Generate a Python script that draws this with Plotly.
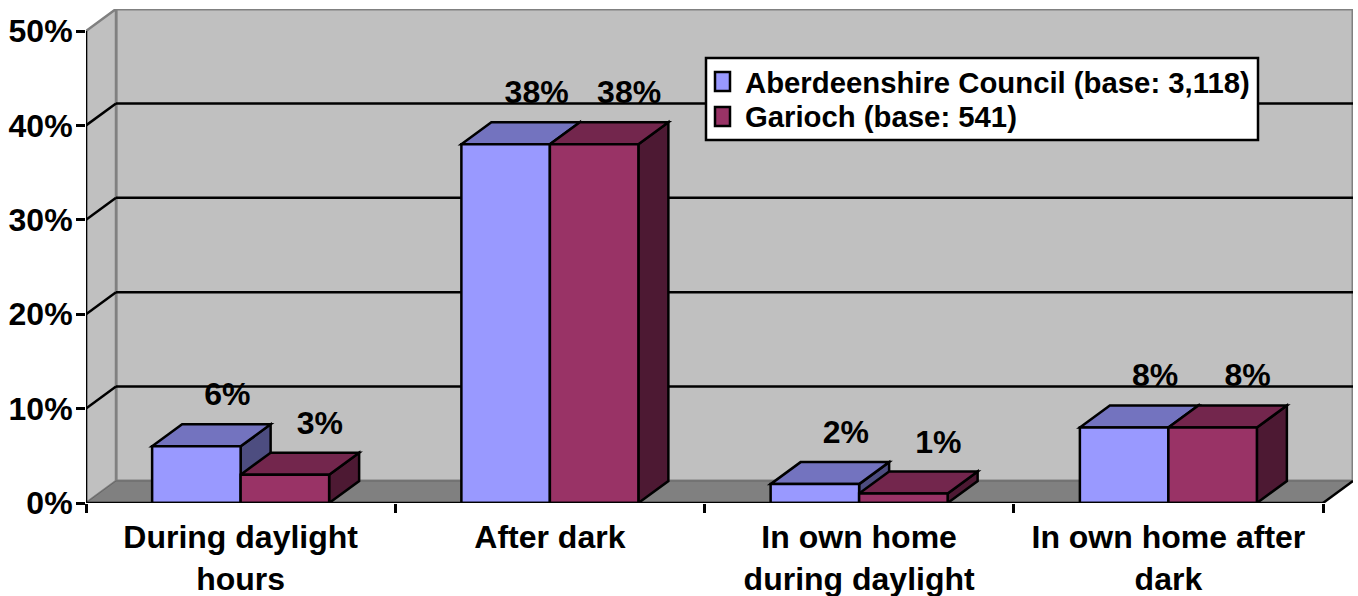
import plotly.graph_objects as go

categories = ["During daylight<br>hours", "After dark", "In own home<br>during daylight", "In own home after<br>dark"]
aberdeenshire = [6, 38, 2, 8]
garioch = [3, 38, 1, 8]
series_names = ["Aberdeenshire Council (base: 3,118)", "Garioch (base: 541)"]
y_ticks = [0, 10, 20, 30, 40, 50]

FONT = "Liberation Sans"
BLUE = ("#9999FF", "#7373BF", "#4D4D80")
MAROON = ("#993366", "#73264D", "#4D1933")
WALL, FLOOR, EDGE = "#C0C0C0", "#808080", "#808080"

W, H = 1358, 596
ML, MR, MT, MB = 86, 5, 9, 93
PX_X, PX_Y = 309.25, 9.44          # pixels per category / per percent
DX, DY = 30 / PX_X, 22 / PX_Y      # depth of the 3-D box in axis units
BAR_W = 88.5 / PX_X
N = len(categories)
centers = [i + 0.5 for i in range(N)]
XMAX, YMAX = y_ticks[-1], N
LW = 2.5


def poly(pts, fill, layer="between", line="black", width=LW):
    path = "M" + " L".join(f"{x:.4f} {y:.4f}" for x, y in pts) + " Z"
    return dict(type="path", path=path, xref="x", yref="y", fillcolor=fill, layer=layer,
                line=dict(color=line, width=width))


def seg(x0, y0, x1, y1, color="black", width=LW, layer="between"):
    return dict(type="line", x0=x0, y0=y0, x1=x1, y1=y1, xref="x", yref="y", layer=layer,
                line=dict(color=color, width=width))


def paper_rect(x0, y0, x1, y1, fill, width=2.5):
    return dict(type="rect", xref="paper", yref="paper", layer="above",
                x0=(x0 - ML) / (W - ML - MR), x1=(x1 - ML) / (W - ML - MR),
                y0=(H - MB - y0) / (H - MT - MB), y1=(H - MB - y1) / (H - MT - MB),
                fillcolor=fill, line=dict(color="black", width=width))


shapes = [
    poly([(DX, DY), (N + DX, DY), (N + DX, XMAX + DY), (DX, XMAX + DY)], WALL, "below", EDGE, 3),
    poly([(0, 0), (DX, DY), (DX, XMAX + DY), (0, XMAX)], WALL, "below", EDGE, 2.5),
    poly([(0, 0), (N, 0), (N + DX, DY), (DX, DY)], FLOOR, "below", "#666666", 1),
]
for t in y_ticks[1:-1]:
    shapes.append(seg(0, t, DX, t + DY, layer="below"))
    shapes.append(seg(DX, t + DY, N + DX, t + DY, layer="below"))
shapes.append(seg(N, 0, N + DX, DY, layer="below"))

for vals, cols, off in ((aberdeenshire, BLUE, -BAR_W), (garioch, MAROON, 0)):
    for c, v in zip(centers, vals):
        x0, x1 = c + off, c + off + BAR_W
        shapes.append(poly([(x1, 0), (x1 + DX, DY), (x1 + DX, v + DY), (x1, v)], cols[2]))
        shapes.append(poly([(x0, v), (x1, v), (x1 + DX, v + DY), (x0 + DX, v + DY)], cols[1]))

shapes.append(seg(0, 0, 0, XMAX, layer="above"))
shapes.append(seg(0, 0, N, 0, layer="above"))

# legend box with its swatches
shapes.append(paper_rect(706, 58, 1258, 140, "white"))
shapes.append(paper_rect(715, 72, 730, 91, BLUE[0]))
shapes.append(paper_rect(715, 107, 730, 126, MAROON[0]))

annotations = [
    dict(text=f"<b>{name}</b>", xref="paper", yref="paper", xanchor="left", yanchor="middle",
         x=(745 - ML) / (W - ML - MR), y=(H - MB - yc) / (H - MT - MB), showarrow=False,
         font=dict(family=FONT, size=29.3, color="black"), borderpad=0, borderwidth=0)
    for name, yc in zip(series_names, (82, 117))
]

fig = go.Figure()
for name, vals, cols in ((series_names[0], aberdeenshire, BLUE), (series_names[1], garioch, MAROON)):
    fig.add_trace(go.Bar(x=centers, y=vals, name=name, showlegend=False,
                         marker=dict(color=cols[0], line=dict(color="black", width=LW))))

LY = 49 / PX_Y
fig.add_trace(go.Scatter(
    x=[c - BAR_W / 2 + 31 / PX_X for c in centers] + [c + BAR_W / 2 + 35 / PX_X for c in centers],
    y=[v + LY for v in aberdeenshire] + [v + LY for v in garioch],
    text=[f"{v}%" for v in aberdeenshire + garioch],
    mode="text", textposition="middle center", showlegend=False, cliponaxis=False,
    textfont=dict(family=FONT, size=32, color="black", weight="bold"), hoverinfo="skip"))

fig.update_layout(
    width=W, height=H, margin=dict(l=ML, r=MR, t=MT, b=MB, pad=0, autoexpand=False),
    paper_bgcolor="white", plot_bgcolor="rgba(0,0,0,0)", showlegend=False,
    barmode="group", bargap=1 - 2 * BAR_W, bargroupgap=0,
    shapes=shapes, annotations=annotations, font=dict(family=FONT, color="black", size=30),
    xaxis=dict(range=[0, N + DX], tickvals=centers, ticktext=categories, automargin=False,
               ticks="", showgrid=False, zeroline=False, showline=False, ticklabelstandoff=12,
               tickfont=dict(family=FONT, size=32, color="black", weight="bold"),
               minor=dict(ticks="outside", ticklen=9, tickwidth=2.5, tickcolor="black", dtick=1, tick0=0, showgrid=False)),
    yaxis=dict(range=[0, XMAX + DY], tickvals=y_ticks, ticktext=[f"{t}%" for t in y_ticks], automargin=False,
               ticks="outside", ticklen=9, tickwidth=2.5, tickcolor="black",
               showgrid=False, zeroline=False, showline=False, ticklabelstandoff=-3,
               tickfont=dict(family=FONT, size=32, color="black", weight="bold")),
)
fig.write_html("out.html", post_script="document.body.style.margin='0';", config=dict(displayModeBar=False))
